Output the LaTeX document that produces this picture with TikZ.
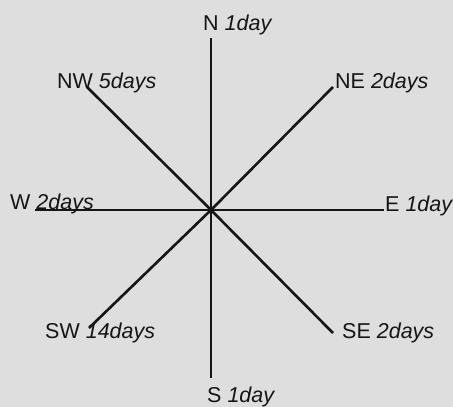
\documentclass[tikz,border=0pt]{standalone}
\usepackage{fontspec}
\setmainfont{Liberation Sans}
\definecolor{bg}{HTML}{DEDEDE}
\definecolor{ink}{HTML}{151515}
\begin{document}
\begin{tikzpicture}[x=1pt,y=-1pt,
  ray/.style={draw=ink,line width=2.6pt},
  lbl/.style={anchor=base west,inner sep=0pt,text=ink,font=\fontsize{21.5}{23}\selectfont}]
\fill[bg] (0,0) rectangle (453,407);
\useasboundingbox (0,0) rectangle (453,407);
\coordinate (c) at (211,210);
\coordinate (n) at (211,38);
\coordinate (s) at (211,378);
\coordinate (e) at (384,210);
\coordinate (w) at (35,210);
\coordinate (nw) at (87,87);
\coordinate (ne) at (333,87);
\coordinate (sw) at (89,328);
\coordinate (se) at (333,333);
\foreach \p in {n,s,e,w,nw,ne,sw,se} \draw[ray] (c) -- (\p);
\node[lbl] (ln) at (203,30) {N \textit{1day}};
\node[lbl] (lnw) at (57,88) {NW \textit{5days}};
\node[lbl] (lne) at (335,88) {NE \textit{2days}};
\node[lbl] (lw) at (10,209) {W \textit{2days}};
\node[lbl] (le) at (385,211) {E \textit{1day}};
\node[lbl] (lsw) at (45,338) {SW \textit{14days}};
\node[lbl] (lse) at (342,338) {SE \textit{2days}};
\node[lbl] (ls) at (207,402) {S \textit{1day}};
\end{tikzpicture}
\end{document}
